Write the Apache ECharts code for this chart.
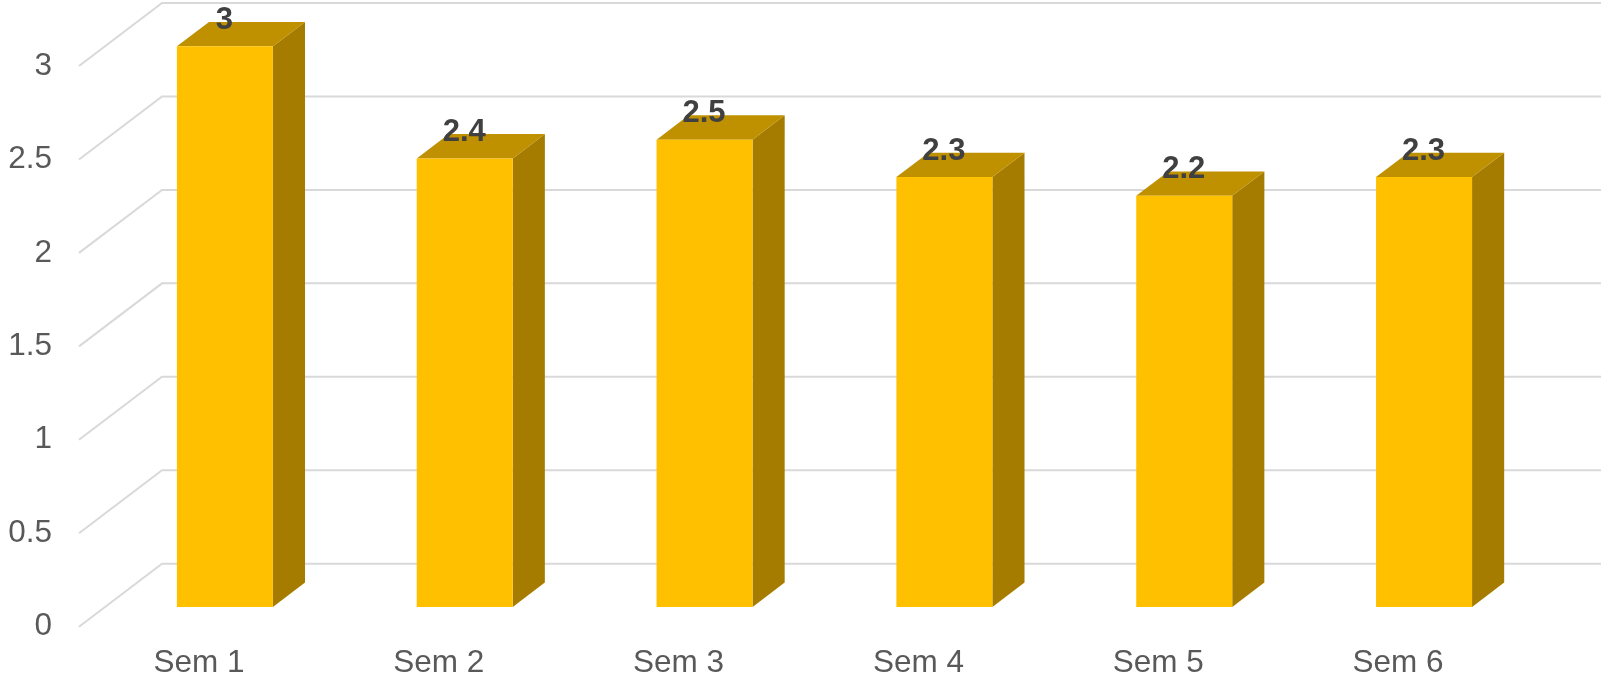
<!DOCTYPE html>
<html>
<head>
<meta charset="utf-8">
<style>html,body{margin:0;padding:0;background:#fff}#c{width:1601px;height:678px}</style>
<script src="https://cdn.jsdelivr.net/npm/echarts@6/dist/echarts.min.js"></script>
</head>
<body>
<div id="c"></div>
<script>
const categories = ['Sem 1', 'Sem 2', 'Sem 3', 'Sem 4', 'Sem 5', 'Sem 6'];
const values = [3, 2.4, 2.5, 2.3, 2.2, 2.3];
const gridTicks = [0, 0.5, 1, 1.5, 2, 2.5, 3];

// oblique projection of the floor depth, in pixels
const WALL_DX = 83, WALL_DY = 63;
const BAR_NEAR = 0.313, BAR_FAR = 0.70, BAR_WIDTH = 96;
const FONT = '"Liberation Sans", Arial, sans-serif';

const chart = echarts.init(document.getElementById('c'), null, {renderer: 'canvas'});

function renderWall(params, api) {
  const cs = params.coordSys;
  const y = api.coord([0, api.value(1)])[1];
  const x0 = cs.x;
  return {
    type: 'polyline',
    shape: {points: [[x0, y], [x0 + WALL_DX, y - WALL_DY], [x0 + WALL_DX + cs.width, y - WALL_DY]]},
    style: {fill: 'none', stroke: '#d9d9d9', lineWidth: 2}
  };
}

function renderBar(params, api) {
  const top = api.coord([api.value(0), api.value(1)]);
  const base = api.coord([api.value(0), 0]);
  const l = top[0] + WALL_DX * BAR_NEAR - BAR_WIDTH / 2;
  const r = l + BAR_WIDTH;
  const yTop = top[1] - WALL_DY * BAR_NEAR;
  const yBase = base[1] - WALL_DY * BAR_NEAR;
  const dx = WALL_DX * (BAR_FAR - BAR_NEAR);
  const dy = WALL_DY * (BAR_FAR - BAR_NEAR);
  return {
    type: 'group',
    children: [
      {type: 'polygon', shape: {points: [[r, yTop], [r + dx, yTop - dy], [r + dx, yBase - dy], [r, yBase]]},
       style: {fill: '#a67c00'}},
      {type: 'polygon', shape: {points: [[l, yTop], [l + dx, yTop - dy], [r + dx, yTop - dy], [r, yTop]]},
       style: {fill: '#bf9000'}},
      {type: 'rect', shape: {x: l, y: yTop, width: BAR_WIDTH, height: yBase - yTop},
       style: {fill: '#ffc000'}},
      {type: 'text', z2: 10,
       style: {text: String(api.value(1)), x: (l + r) / 2 - 0.5, y: yTop - 26, align: 'center', verticalAlign: 'middle',
               fill: '#404040', font: 'bold 31px ' + FONT}}
    ]
  };
}

chart.setOption({
  animation: false,
  backgroundColor: '#ffffff',
  grid: {left: 79, top: 66, width: 1439, height: 560.7, containLabel: false, outerBoundsMode: 'none'},
  xAxis: {
    type: 'category', data: categories,
    axisLine: {show: false}, axisTick: {show: false}, splitLine: {show: false},
    axisLabel: {color: '#595959', fontSize: 31.5, fontFamily: FONT, margin: 21}
  },
  yAxis: {
    type: 'value', min: 0, max: 3, interval: 0.5,
    axisLine: {show: false}, axisTick: {show: false}, splitLine: {show: false},
    axisLabel: {color: '#595959', fontSize: 31.5, fontFamily: FONT, margin: 27}
  },
  series: [
    {type: 'custom', name: 'wall', silent: true, z: 1, renderItem: renderWall,
     data: gridTicks.map(v => [0, v]), encode: {x: 0, y: 1}},
    {type: 'custom', name: 'bars', z: 2, renderItem: renderBar,
     data: values.map((v, i) => [i, v]), encode: {x: 0, y: 1}}
  ]
});
</script>
</body>
</html>
